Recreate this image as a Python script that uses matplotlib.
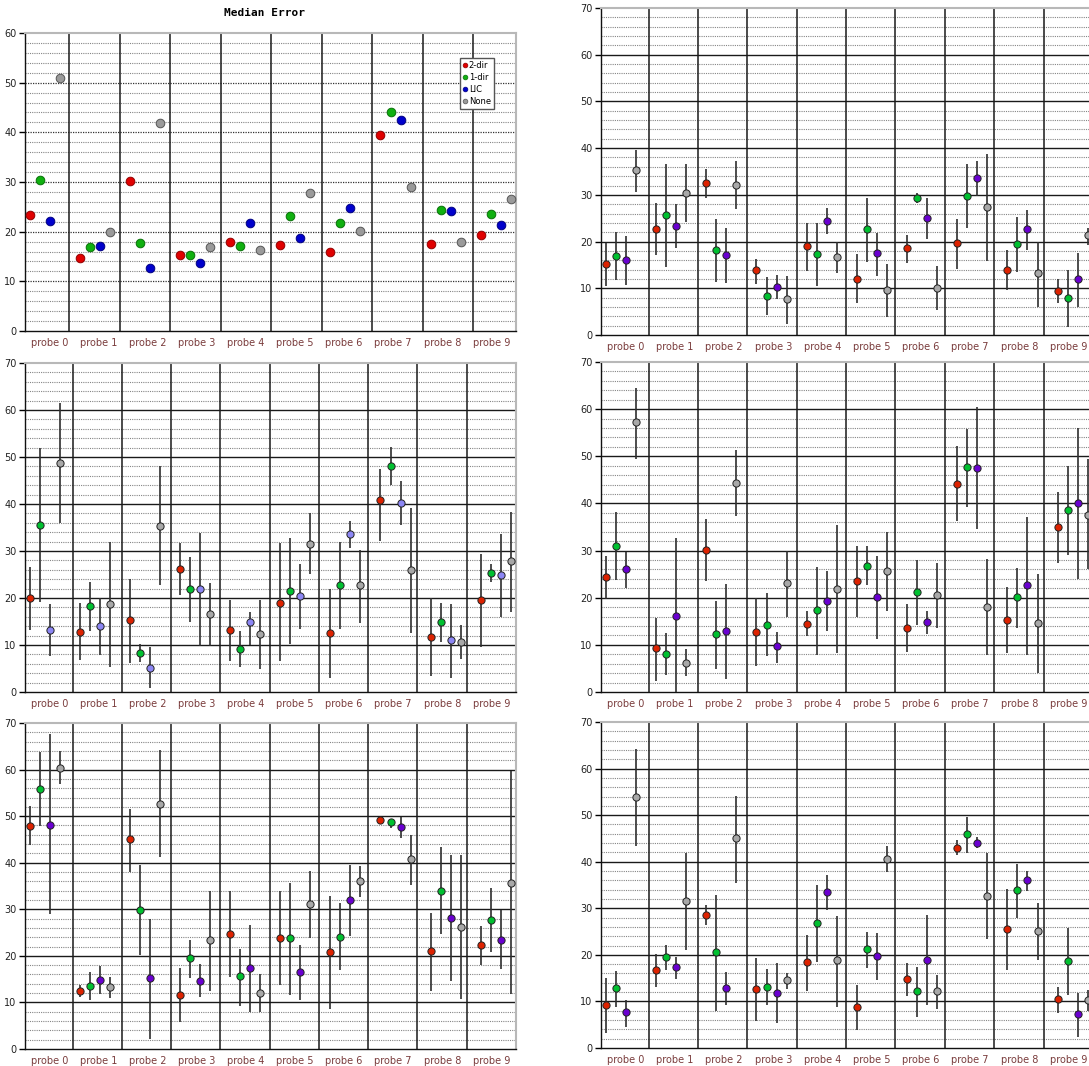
import matplotlib
matplotlib.use("Agg")
import matplotlib.pyplot as plt
from matplotlib.lines import Line2D

# ---------------- data ----------------
categories = [f"probe {i}" for i in range(10)]
legend_labels = ["2-dir", "1-dir", "LIC", "None"]

# Panel A (top-left, medians only): order 2-dir, 1-dir, LIC, None
A_MED = [
    [23.3, 14.7, 30.2, 15.3, 17.9, 17.4, 16.0, 39.4, 17.5, 19.4],
    [30.4, 16.9, 17.7, 15.3, 17.1, 23.1, 21.8, 44.0, 24.3, 23.6],
    [22.2, 17.1, 12.6, 13.6, 21.8, 18.75, 24.8, 42.5, 24.1, 21.4],
    [51.0, 20.0, 41.9, 16.9, 16.3, 27.8, 20.2, 29.0, 18.0, 26.5],
]

# Panel B (top-right)
B_MED = [
    [15.2, 22.7, 32.6, 13.9, 19.0, 12.0, 18.6, 19.6, 14.0, 9.4],
    [17.0, 25.7, 18.1, 8.4, 17.3, 22.6, 29.4, 29.7, 19.4, 8.0],
    [16.1, 23.4, 17.1, 10.3, 24.5, 17.5, 25.0, 33.6, 22.6, 11.9],
    [35.4, 30.4, 32.2, 7.6, 16.6, 9.7, 10.0, 27.5, 13.2, 21.3],
]
B_LO = [
    [10.4, 17.1, 29.3, 11.0, 13.8, 6.8, 15.5, 14.1, 9.7, 6.8],
    [11.8, 14.6, 11.4, 4.3, 10.5, 15.7, 28.2, 22.9, 13.5, 1.8],
    [10.8, 18.6, 11.2, 7.6, 21.7, 12.7, 20.5, 29.7, 18.2, 5.9],
    [30.7, 24.2, 27.0, 2.4, 13.3, 3.9, 5.4, 15.9, 6.1, 19.2],
]
B_HI = [
    [19.7, 28.2, 35.5, 16.3, 23.9, 17.3, 21.4, 24.8, 18.3, 12.0],
    [22.0, 36.5, 24.8, 12.5, 23.9, 29.3, 30.4, 36.5, 25.2, 14.0],
    [21.2, 28.0, 22.9, 12.8, 27.2, 21.9, 29.4, 37.3, 26.7, 17.5],
    [39.6, 36.5, 37.3, 12.7, 20.0, 15.2, 14.7, 38.8, 20.0, 23.0],
]

# Panel C (middle-left)
C_MED = [
    [19.9, 12.8, 15.3, 26.2, 13.1, 19.0, 12.5, 40.8, 11.8, 19.5],
    [35.6, 18.2, 8.3, 21.9, 9.2, 21.5, 22.7, 48.0, 15.0, 25.4],
    [13.1, 14.0, 5.2, 22.0, 15.0, 20.4, 33.6, 40.2, 11.0, 24.8],
    [48.8, 18.7, 35.4, 16.5, 12.3, 31.5, 22.7, 25.9, 10.7, 27.8],
]
C_LO = [
    [13.2, 6.8, 6.1, 20.7, 6.6, 6.5, 2.9, 32.1, 3.4, 9.6],
    [19.2, 13.0, 6.3, 14.8, 5.4, 10.2, 13.3, 44.0, 10.7, 23.4],
    [7.6, 7.8, 0.9, 9.7, 10.0, 13.5, 30.7, 35.5, 2.9, 16.0],
    [35.9, 5.3, 22.8, 9.7, 5.0, 25.2, 14.7, 12.5, 7.0, 17.1],
]
C_HI = [
    [26.6, 18.9, 24.1, 31.6, 19.5, 31.6, 22.0, 47.5, 20.0, 29.3],
    [51.9, 23.4, 10.2, 28.7, 13.0, 32.8, 31.9, 52.1, 19.0, 27.3],
    [18.7, 20.0, 9.5, 33.9, 17.0, 27.2, 36.4, 44.8, 18.8, 33.6],
    [61.5, 31.9, 48.0, 23.2, 19.5, 38.0, 30.3, 39.2, 14.3, 38.2],
]

# Panel D (middle-right)
D_MED = [
    [24.5, 9.3, 30.1, 12.8, 14.5, 23.5, 13.5, 44.2, 15.3, 35.0],
    [30.9, 8.1, 12.2, 14.3, 17.3, 26.8, 21.2, 47.7, 20.1, 38.6],
    [26.0, 16.2, 13.0, 9.7, 19.4, 20.1, 14.8, 47.5, 22.6, 40.1],
    [57.2, 6.2, 44.3, 23.2, 21.8, 25.7, 20.6, 18.1, 14.6, 37.6],
]
D_LO = [
    [19.8, 2.3, 23.6, 5.5, 11.8, 16.0, 8.4, 36.2, 8.2, 27.4],
    [23.8, 3.6, 4.8, 7.7, 7.8, 22.7, 14.3, 39.2, 13.6, 29.1],
    [22.0, 0.0, 2.7, 6.2, 13.0, 11.2, 12.3, 34.5, 7.9, 24.0],
    [49.5, 3.3, 37.4, 16.0, 8.2, 17.1, 13.5, 7.9, 4.1, 26.0],
]
D_HI = [
    [28.9, 15.8, 36.7, 20.0, 17.1, 30.9, 18.6, 52.1, 22.3, 42.5],
    [38.2, 12.5, 19.2, 20.9, 26.5, 30.9, 28.0, 55.7, 26.3, 48.0],
    [29.8, 32.7, 23.0, 12.8, 25.7, 28.8, 17.1, 60.4, 37.1, 56.1],
    [64.5, 9.1, 51.3, 30.0, 35.5, 34.0, 27.4, 28.2, 25.0, 49.5],
]

# Panel E (bottom-left)
E_MED = [
    [47.9, 12.4, 45.0, 11.6, 24.8, 23.9, 20.8, 49.1, 21.1, 22.4],
    [55.8, 13.6, 29.9, 19.5, 15.6, 23.8, 24.0, 48.7, 34.0, 27.8],
    [48.2, 14.9, 15.2, 14.7, 17.4, 16.5, 31.9, 47.6, 28.2, 23.5],
    [60.4, 13.3, 52.7, 23.3, 12.1, 31.1, 36.0, 40.8, 26.2, 35.7],
]
E_LO = [
    [43.7, 11.1, 38.1, 5.9, 15.5, 13.7, 8.6, 48.4, 12.5, 18.1],
    [47.9, 10.6, 20.1, 15.3, 9.3, 11.5, 16.9, 47.5, 24.8, 20.9],
    [29.0, 11.9, 2.2, 11.2, 8.0, 10.5, 24.2, 45.3, 14.5, 17.1],
    [57.0, 11.0, 41.3, 12.4, 8.0, 23.9, 32.7, 35.3, 10.8, 11.8],
]
E_HI = [
    [52.1, 13.7, 51.6, 17.4, 33.9, 34.0, 32.9, 49.8, 29.3, 26.5],
    [63.8, 16.5, 39.6, 23.5, 21.5, 35.7, 31.3, 49.4, 43.4, 34.5],
    [67.6, 17.9, 28.0, 18.2, 26.7, 22.4, 39.5, 49.9, 41.7, 29.9],
    [63.9, 15.5, 64.1, 33.9, 16.1, 38.3, 39.3, 46.0, 41.6, 59.6],
]

# Panel F (bottom-right)
F_MED = [
    [9.3, 16.8, 28.6, 12.7, 18.5, 8.9, 14.8, 43.0, 25.6, 10.6],
    [12.8, 19.6, 20.6, 13.2, 26.8, 21.2, 12.2, 45.9, 33.9, 18.6],
    [7.7, 17.3, 12.8, 11.9, 33.5, 19.7, 18.9, 44.1, 36.0, 7.2],
    [53.9, 31.6, 45.0, 14.5, 18.8, 40.5, 12.2, 32.6, 25.1, 10.4],
]
F_LO = [
    [3.3, 13.1, 26.4, 5.8, 12.3, 3.9, 11.1, 41.4, 16.8, 7.6],
    [8.8, 16.7, 8.0, 9.2, 18.5, 17.1, 6.7, 41.9, 28.0, 11.4],
    [4.5, 14.9, 9.2, 5.3, 29.7, 14.7, 9.2, 42.9, 33.7, 2.4],
    [43.3, 21.1, 35.4, 12.6, 8.9, 37.8, 8.4, 23.5, 18.9, 7.9],
]
F_HI = [
    [15.0, 20.2, 30.6, 19.4, 24.3, 13.6, 18.3, 44.6, 34.2, 13.1],
    [16.6, 22.1, 32.9, 17.0, 34.9, 25.0, 17.5, 49.6, 39.5, 25.7],
    [10.4, 19.6, 16.3, 18.2, 37.1, 24.6, 28.5, 45.2, 38.0, 11.9],
    [64.3, 41.9, 54.1, 16.1, 28.4, 43.3, 15.6, 41.9, 31.2, 12.5],
]

# ---------------- style ----------------
W, H = 1089, 1066
fig = plt.figure(figsize=(W / 100, H / 100), dpi=100)
fig.patch.set_facecolor("white")

COL_A = ["#e00000", "#10b010", "#0000cc", "#9a9a9a"]
EDGE_A = ["#900000", "#087008", "#000080", "#555555"]
COL_STD = ["#dd2200", "#00c030", "#6a00d0", "#a8a8a8"]
COL_LAV = ["#dd2200", "#00c030", "#8c86f4", "#a8a8a8"]

X0, XSTEP, XOFF = 0.10, 1.02, 0.204
SEP_A = [0.90 + 1.028 * k for k in range(9)]
SEP_STD = [0.97 + 1.003 * k for k in range(9)]


def ax_at(x0, x1, y0, y1):
    return fig.add_axes([x0 / W, 1 - y1 / H, (x1 - x0) / W, (y1 - y0) / H])


def panel(ax, ymax, med, lo, hi, colors, edges, seps, ms, dotted_major=False):
    ax.set_xlim(0, 10)
    ax.set_ylim(0, ymax)
    for v in range(2, ymax, 2):
        if v % 10:
            ax.axhline(v, color="#858585", lw=0.8, ls=(0, (1, 1)), zorder=1)
    for v in range(10, ymax, 10):
        if dotted_major:
            ax.axhline(v, color="#333333", lw=0.9, ls=(0, (1, 1)), zorder=1)
        else:
            ax.axhline(v, color="#1a1a1a", lw=1.0, zorder=1)
    ax.vlines(seps, 0, ymax, color="#1a1a1a", lw=1.1, zorder=2)
    for j in range(4):
        xs = [X0 + XSTEP * i + XOFF * j for i in range(10)]
        if lo is not None:
            ax.vlines(xs, lo[j], hi[j], color="#2e2e2e", lw=1.2, zorder=3)
        ax.plot(xs, med[j], "o", ms=ms, mfc=colors[j], mec=edges[j],
                mew=0.7, zorder=4, clip_on=False)
    ax.set_yticks(range(0, ymax + 1, 10))
    ax.tick_params(axis="y", direction="out", length=4, width=1,
                   labelsize=7, labelcolor="#222222", pad=2)
    ax.set_xticks([i + 0.5 for i in range(10)])
    ax.set_xticklabels(categories)
    ax.tick_params(axis="x", length=0, labelsize=7, labelcolor="#7a3c3c", pad=5)
    for s in ("left", "bottom"):
        ax.spines[s].set_color("#111111")
        ax.spines[s].set_linewidth(1.0)
    for s in ("top", "right"):
        ax.spines[s].set_color("#b8b8b8")
        ax.spines[s].set_linewidth(1.5)


black = ["#222222"] * 4

axA = ax_at(25, 516, 33, 331)
panel(axA, 60, A_MED, None, None, COL_A, EDGE_A, SEP_A, 6.2, dotted_major=True)
axB = ax_at(601, 1093, 8, 335)
panel(axB, 70, B_MED, B_LO, B_HI, COL_STD, black, SEP_STD, 5.2)
axC = ax_at(25, 516, 363, 692)
panel(axC, 70, C_MED, C_LO, C_HI, COL_LAV, black, SEP_STD, 5.2)
axD = ax_at(601, 1093, 362, 692)
panel(axD, 70, D_MED, D_LO, D_HI, COL_STD, black, SEP_STD, 5.2)
axE = ax_at(25, 516, 723, 1049)
panel(axE, 70, E_MED, E_LO, E_HI, COL_STD, black, SEP_STD, 5.2)
axF = ax_at(601, 1093, 722, 1048)
panel(axF, 70, F_MED, F_LO, F_HI, COL_STD, black, SEP_STD, 5.2)

fig.text(265 / W, 1 - 13 / H, "Median Error", ha="center", va="center",
         fontsize=8, fontweight="bold", family="DejaVu Sans Mono")

handles = [Line2D([], [], ls="none", marker="o", ms=3.4, mfc=COL_A[k],
                  mec=EDGE_A[k], mew=0.5) for k in range(4)]
leg = fig.legend(handles, legend_labels, loc="upper left",
                 bbox_to_anchor=(460 / W, 1 - 58 / H), frameon=True,
                 fancybox=False, edgecolor="#555555", framealpha=1,
                 handlelength=0.5, handletextpad=0.2,
                 labelspacing=0.35, borderpad=0.35, borderaxespad=0,
                 prop={"family": "DejaVu Sans", "size": 6})
leg.get_frame().set_linewidth(1.0)

fig.savefig("out.png", dpi=100)
